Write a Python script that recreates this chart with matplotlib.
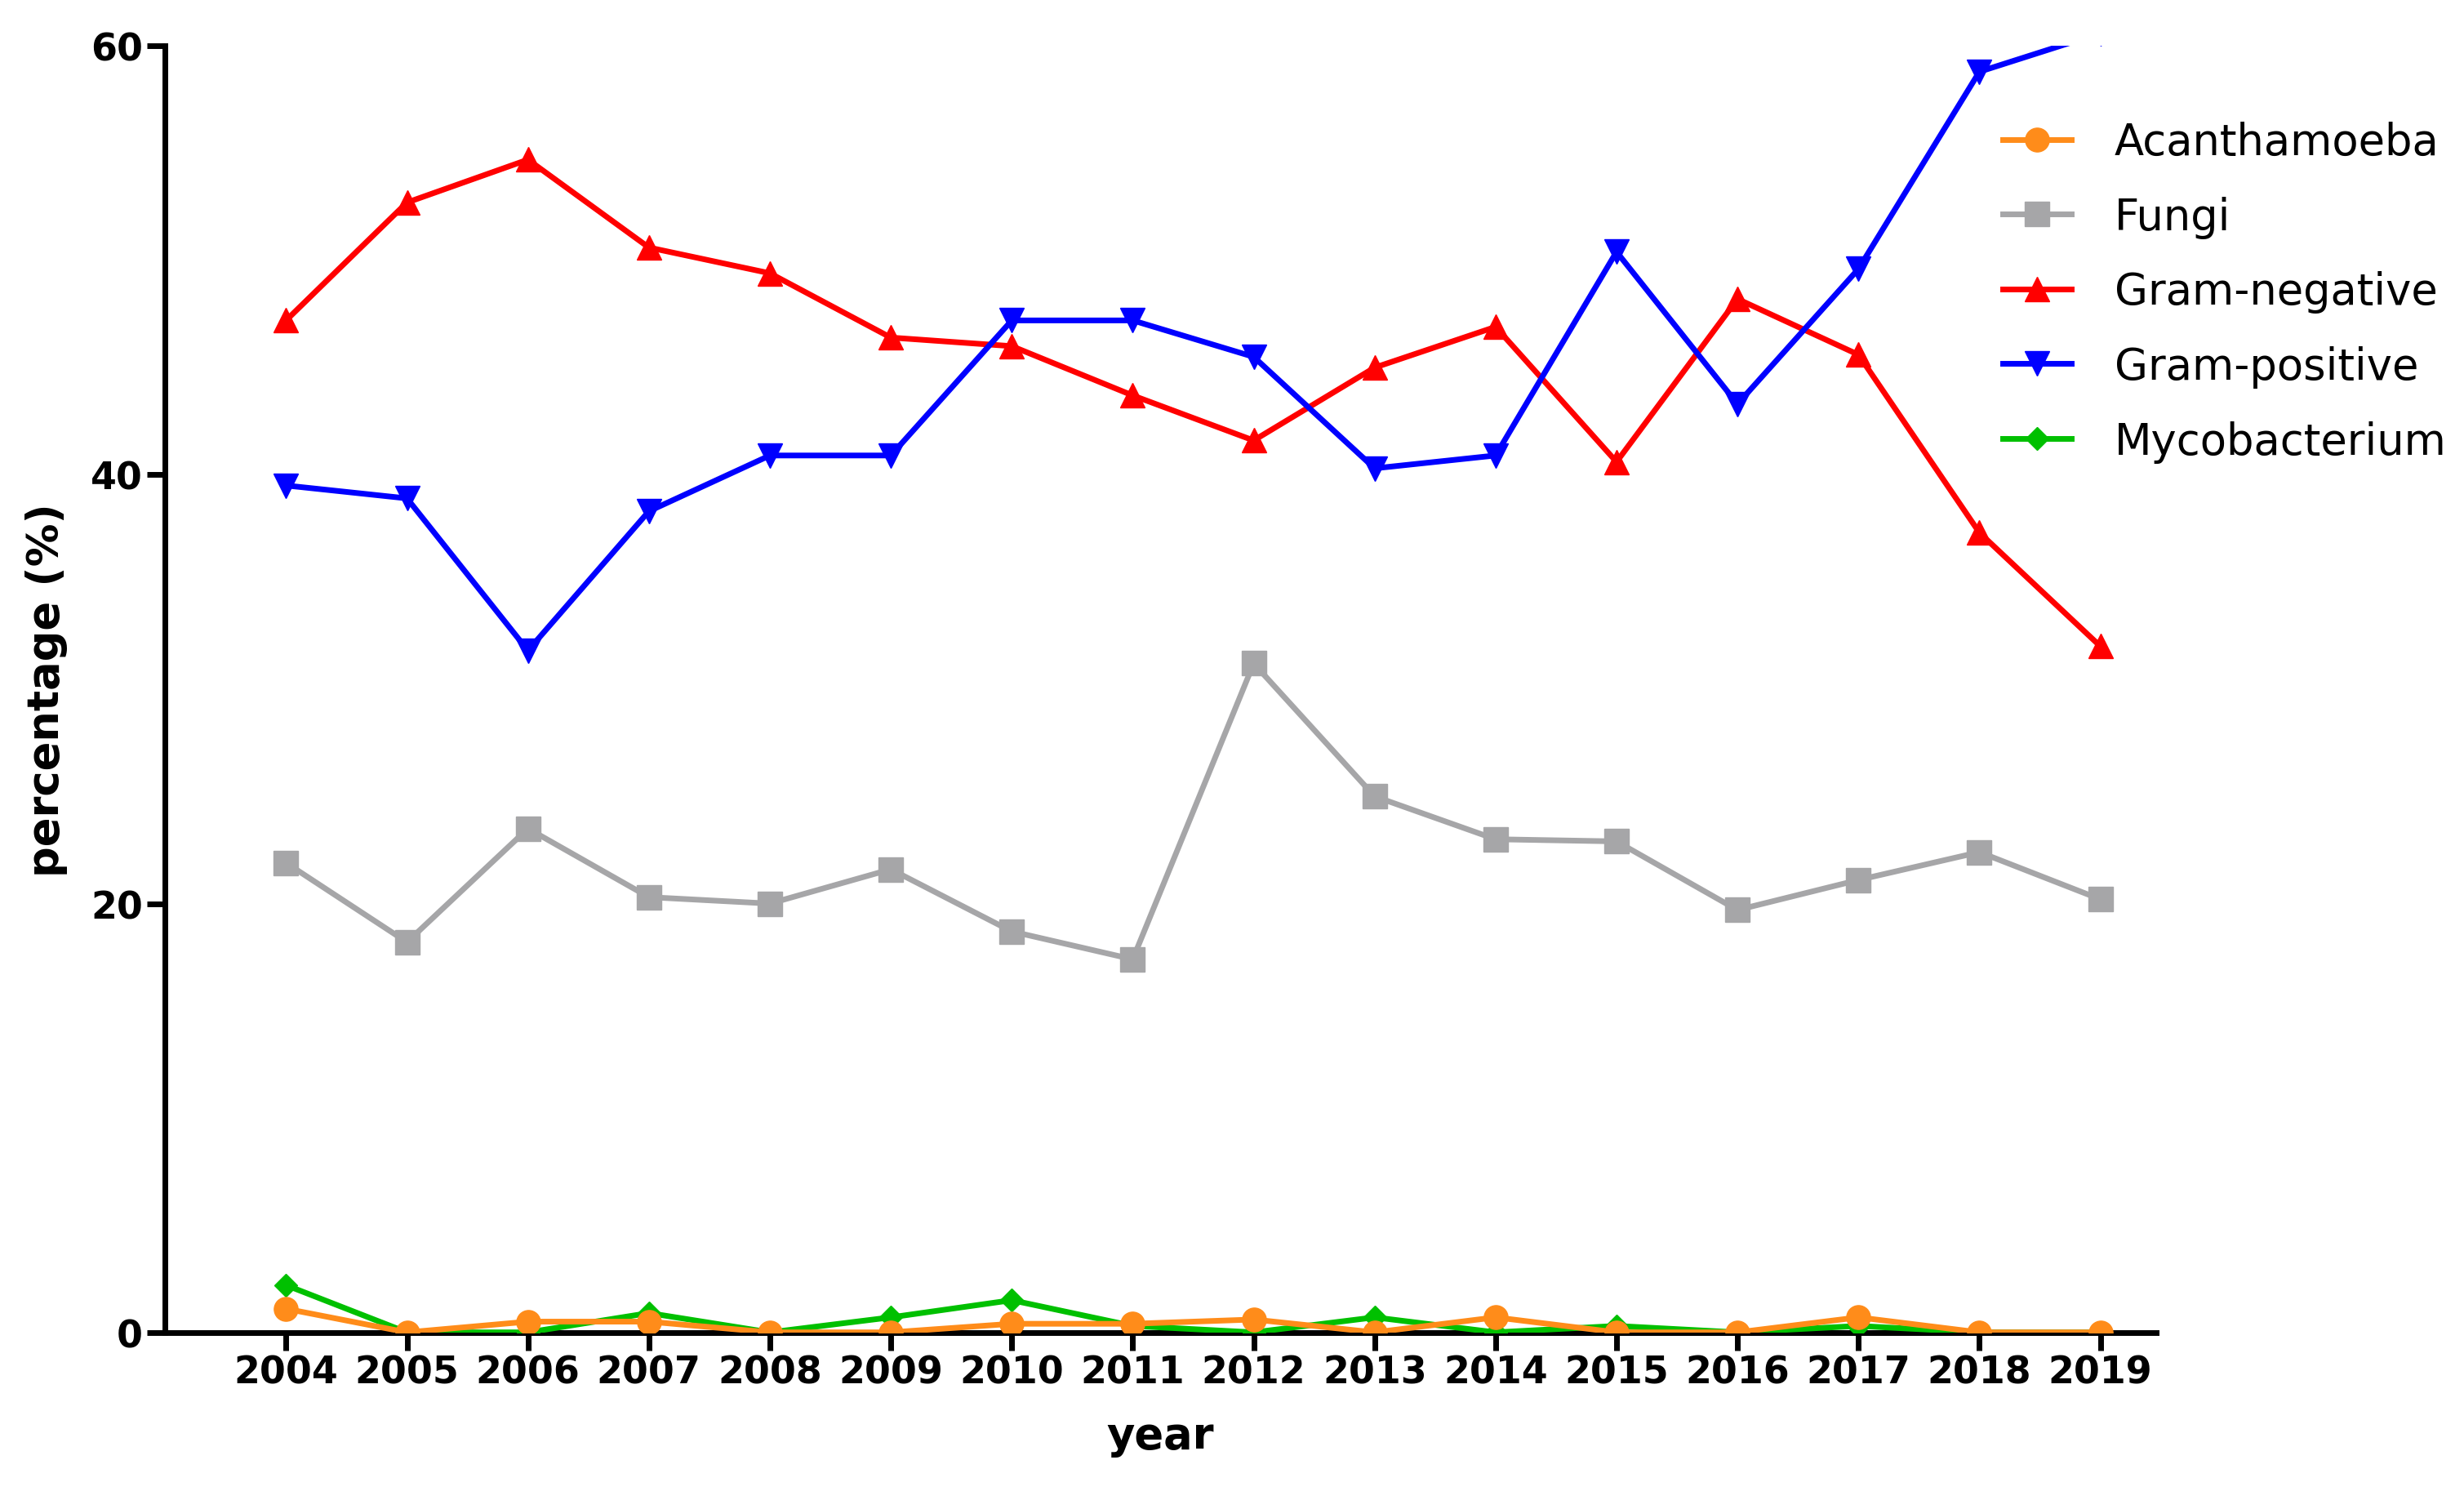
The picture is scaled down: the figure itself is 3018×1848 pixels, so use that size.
import matplotlib
matplotlib.use("Agg")
import matplotlib.pyplot as plt
import numpy as np

years = list(range(2004, 2020))
acanthamoeba = [1.1, 0, 0.5, 0.5, 0, 0, 0.4, 0.4, 0.6, 0, 0.7, 0, 0, 0.7, 0, 0]
fungi = [21.9, 18.2, 23.5, 20.3, 20.0, 21.6, 18.7, 17.4, 31.2, 25.0, 23.0, 22.9, 19.7, 21.1, 22.4, 20.2]
gram_neg = [47.2, 52.7, 54.7, 50.6, 49.4, 46.4, 46.0, 43.7, 41.6, 45.0, 46.9, 40.6, 48.2, 45.6, 37.3, 32.0]
gram_pos = [39.5, 38.9, 31.8, 38.3, 40.9, 40.9, 47.2, 47.2, 45.5, 40.3, 40.9, 50.4, 43.3, 49.6, 58.8, 60.6]
myco = [2.2, 0, 0, 0.9, 0, 0.7, 1.5, 0.3, 0, 0.7, 0, 0.3, 0, 0.3, 0, 0]

fig = plt.figure(figsize=(30.18, 18.49), dpi=100)
ax = fig.add_axes([0.067, 0.117, 0.808, 0.852])

lw = 5
ms = 21
ax.plot(years, acanthamoeba, color="#FF8C1A", marker="o", lw=lw, ms=ms, label="Acanthamoeba", zorder=5)
ax.plot(years, fungi, color="#A6A6A8", marker="s", lw=lw, ms=ms, label="Fungi")
ax.plot(years, gram_neg, color="#FF0000", marker="^", lw=lw, ms=ms, label="Gram-negative")
ax.plot(years, gram_pos, color="#0000FF", marker="v", lw=lw, ms=ms, label="Gram-positive")
ax.plot(years, myco, color="#00C000", marker="D", lw=lw, ms=14, label="Mycobacterium", zorder=4)

ax.set_xlim(2003.0, 2019.46)
ax.set_ylim(0, 60)
ax.set_yticks([0, 20, 40, 60])
ax.set_xticks(years)
ax.set_xticklabels([str(y) for y in years], fontsize=33, fontweight="bold")
for t in ax.get_yticklabels():
    t.set_fontsize(33)
    t.set_fontweight("bold")
ax.tick_params(width=5, length=16)
for s in ["top", "right"]:
    ax.spines[s].set_visible(False)
for s in ["left", "bottom"]:
    ax.spines[s].set_linewidth(5)
ax.set_xlabel("year", fontsize=38, fontweight="bold", labelpad=20)
ax.set_ylabel("percentage (%)", fontsize=38, fontweight="bold", labelpad=20)

fig.legend(loc="upper left", bbox_to_anchor=(0.797, 0.945), frameon=False,
           fontsize=38, handlelength=1.6, labelspacing=0.75, handletextpad=1.0)

fig.savefig("out.png", dpi=100)
